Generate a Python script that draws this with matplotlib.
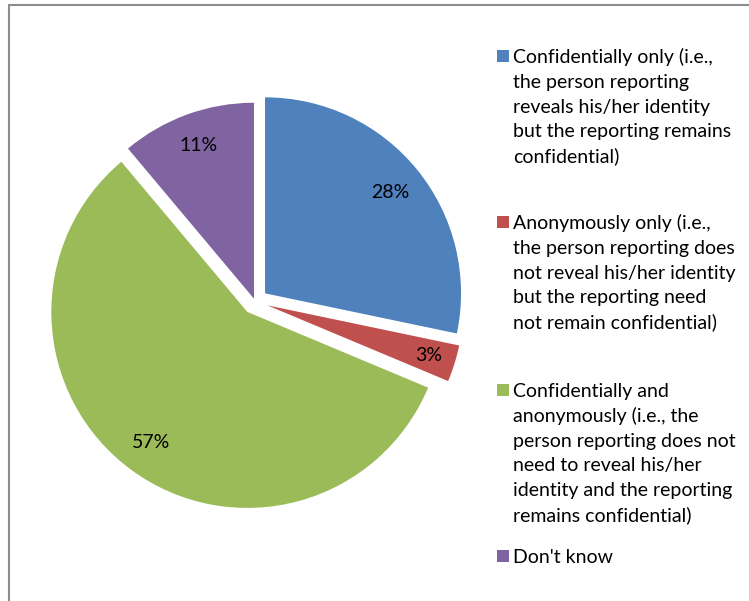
import numpy as np
import matplotlib.pyplot as plt
from matplotlib.patches import Rectangle

# Данные опроса
categories = [
    "Confidentially only (i.e.,\nthe person reporting\nreveals his/her identity\nbut the reporting remains\nconfidential)",
    "Anonymously only (i.e.,\nthe person reporting does\nnot reveal his/her identity\nbut the reporting need\nnot remain confidential)",
    "Confidentially and\nanonymously (i.e., the\nperson reporting does not\nneed to reveal his/her\nidentity and the reporting\nremains confidential)",
    "Don't know",
]
values = [28, 3, 57, 11]
colors = ["#4F81BD", "#C0504D", "#9BBB59", "#8064A2"]

W, H = 749, 601
plt.rcParams['font.family'] = ['Lato', 'DejaVu Sans']
fs = 14

fig = plt.figure(figsize=(W / 100, H / 100), dpi=100)


def fx(x):
    return x / W


def fy(y):
    return 1 - y / H


# Рамка области диаграммы
fig.patches.append(Rectangle((fx(9), -0.1), 1.2, fy(5) + 0.1, transform=fig.transFigure,
                             fill=False, edgecolor="#8C8C8C", linewidth=1.5))

# Круговая диаграмма: центр (255, 301.5) px, радиус 196 px
cx, cy, r = 255, 301.5, 196
ax = fig.add_axes([fx(cx - 1.25 * r), fy(cy + 1.25 * r), 2.5 * r / W, 2.5 * r / H])
wedges, _ = ax.pie(values, colors=colors, startangle=90, counterclock=False,
                   explode=[0.066, 0.066, 0.066, 0.015], radius=1,
                   wedgeprops=dict(linewidth=0))
ax.set_xlim(-1.25, 1.25)
ax.set_ylim(-1.25, 1.25)
ax.set_aspect('equal')
ax.axis('off')

# Подписи процентов внутри секторов
label_r = [0.82, 0.86, 0.83, 0.83]
for w, v, lr in zip(wedges, values, label_r):
    ang = np.deg2rad((w.theta1 + w.theta2) / 2)
    x0, y0 = w.center
    ax.text(x0 + lr * np.cos(ang), y0 + lr * np.sin(ang), f"{v}%",
            ha='center', va='center', fontsize=fs, color='black')

# Легенда справа
entry_y = [63, 229, 397, 563]
line_h = 24.8
for label, c, y in zip(categories, colors, entry_y):
    fig.patches.append(Rectangle((fx(497), fy(y - 1)), 12 / W, 12 / H,
                                 transform=fig.transFigure, facecolor=c, edgecolor='none'))
    for i, line in enumerate(label.split("\n")):
        fig.text(fx(513), fy(y + i * line_h), line, ha='left', va='baseline',
                 fontsize=fs, color='black')

plt.savefig("out.png", dpi=100)
